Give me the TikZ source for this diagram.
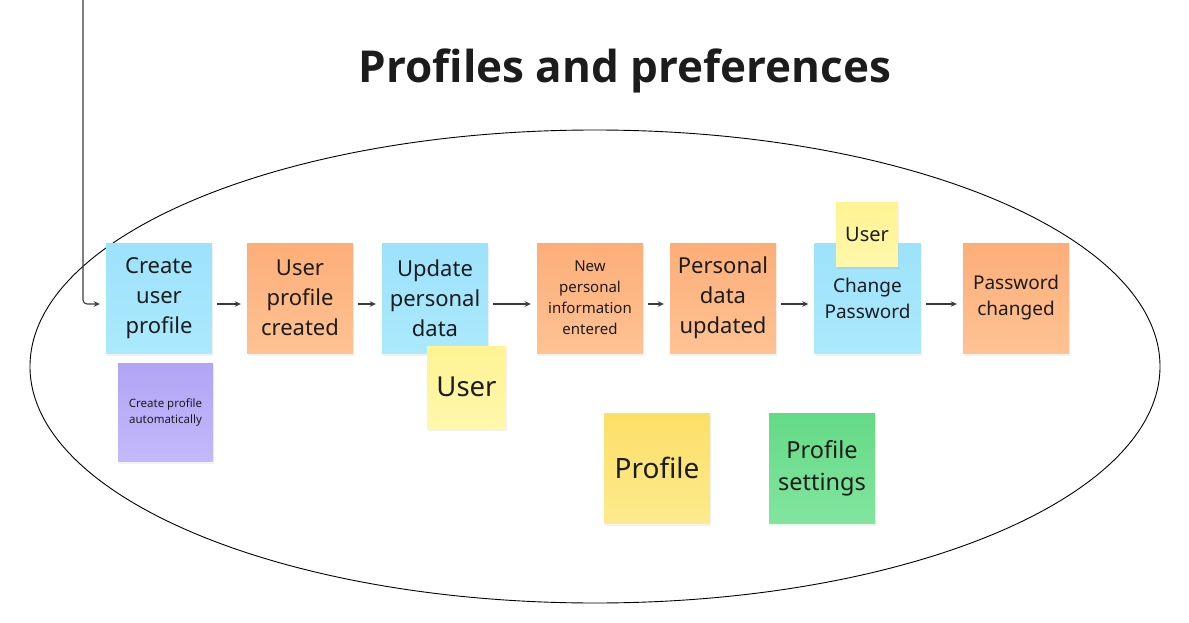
\documentclass[tikz,border=0pt]{standalone}
\usepackage{fontspec}
\setmainfont{Noto Sans}
\newfontfamily\titlefont{Open Sans}
\usetikzlibrary{arrows.meta,shadows}
\definecolor{inkText}{HTML}{1C1C1C}
\definecolor{arrowGray}{HTML}{3A3A3A}
\definecolor{blueTop}{HTML}{9DE2FB}
\definecolor{blueBot}{HTML}{ABE9FD}
\definecolor{orangeTop}{HTML}{FDAE78}
\definecolor{orangeBot}{HTML}{FEC293}
\definecolor{paleYellowTop}{HTML}{FFF393}
\definecolor{paleYellowBot}{HTML}{FFF7AC}
\definecolor{yellowTop}{HTML}{FBDF66}
\definecolor{yellowBot}{HTML}{FDEA8E}
\definecolor{greenTop}{HTML}{64DA86}
\definecolor{greenBot}{HTML}{82E59F}
\definecolor{purpleTop}{HTML}{B1A4F5}
\definecolor{purpleBot}{HTML}{C3B9FB}

\begin{document}
\begin{tikzpicture}[x=1pt, y=-1pt,
  note/.style={minimum width=106pt, minimum height=110pt, inner sep=0pt, align=center, text=inkText,
    drop shadow={opacity=0.10, shadow xshift=1pt, shadow yshift=-3pt}},
  blueNote/.style={note, top color=blueTop, bottom color=blueBot},
  orangeNote/.style={note, top color=orangeTop, bottom color=orangeBot},
  bigText/.style={font=\fontsize{22}{30}\selectfont},
  midText/.style={font=\fontsize{19}{26}\selectfont},
  flow/.style={-{Stealth[length=6pt, width=5.5pt]}, draw=arrowGray, line width=1.1pt, shorten <=5pt, shorten >=6pt}]
  \useasboundingbox (0,0) rectangle (1189,623);

  % frame
  \draw[black, line width=0.9pt] (595,366.5) ellipse [x radius=565, y radius=236.5];
  \node[text=inkText, font=\titlefont\bfseries\fontsize{44}{50}\selectfont] (title) at (625,71) {Profiles and preferences};

  % main flow
  \node[blueNote, bigText] (create) at (159,298) {Create\\user\\profile};
  \node[orangeNote, bigText] (created) at (300,298) {User\\profile\\created};
  \node[blueNote, bigText] (update) at (435,298) {Update\\personal\\data};
  \node[orangeNote, font=\fontsize{15}{21}\selectfont] (entered) at (590,298) {New\\personal\\information\\entered};
  \node[orangeNote, bigText] (updated) at (723,298) {Personal\\data\\updated};
  \node[blueNote, midText] (change) at (867.5,298) {Change\\Password};
  \node[orangeNote, midText] (changed) at (1016,298) {Password\\changed};

  % actors and extras
  \node[note, minimum width=62pt, minimum height=64pt, top color=paleYellowTop, bottom color=paleYellowBot,
    font=\fontsize{20}{26}\selectfont] (userTop) at (867,234) {User};
  \node[note, minimum width=79pt, minimum height=82pt, top color=paleYellowTop, bottom color=paleYellowBot,
    font=\fontsize{27.5}{32}\selectfont] (userLow) at (466.5,387) {User};
  \node[note, minimum width=95pt, minimum height=98pt, top color=purpleTop, bottom color=purpleBot,
    font=\fontsize{11.5}{16}\selectfont] (auto) at (165.5,412) {Create profile\\automatically};
  \node[note, top color=yellowTop, bottom color=yellowBot, font=\fontsize{28}{32}\selectfont] (profile) at (657,468) {Profile};
  \node[note, top color=greenTop, bottom color=greenBot, font=\fontsize{23.5}{32}\selectfont] (settings) at (822,468) {Profile\\settings};

  % connectors
  \coordinate (entry) at (83,0);
  \draw[flow, shorten <=0pt, rounded corners=4pt] (entry) |- ([yshift=-6pt]create.west);
  \draw[flow] ([yshift=-6pt]create.east) -- ([yshift=-6pt]created.west);
  \draw[flow] ([yshift=-6pt]created.east) -- ([yshift=-6pt]update.west);
  \draw[flow] ([yshift=-6pt]update.east) -- ([yshift=-6pt]entered.west);
  \draw[flow] ([yshift=-6pt]entered.east) -- ([yshift=-6pt]updated.west);
  \draw[flow] ([yshift=-6pt]updated.east) -- ([yshift=-6pt]change.west);
  \draw[flow] ([yshift=-6pt]change.east) -- ([yshift=-6pt]changed.west);
\end{tikzpicture}
\end{document}
